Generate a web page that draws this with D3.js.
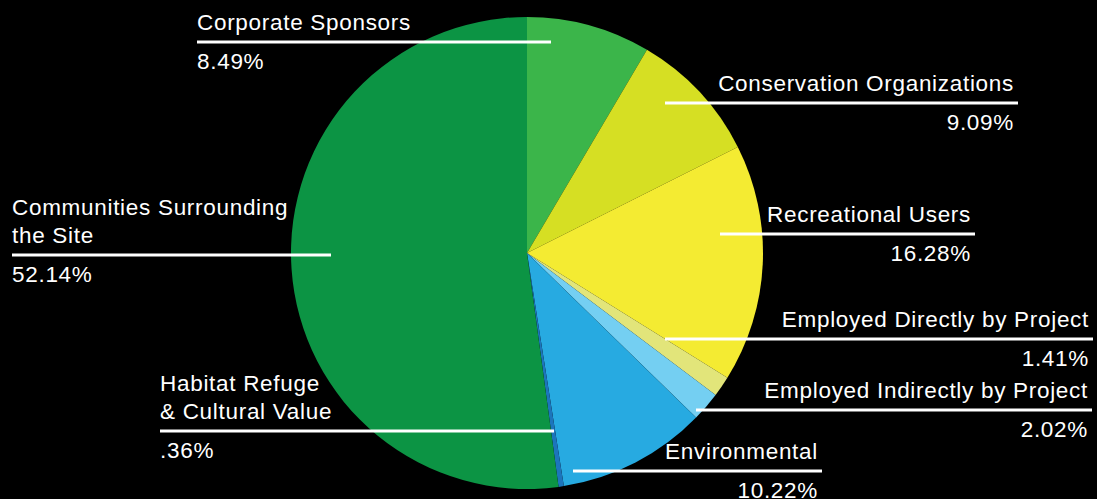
<!DOCTYPE html>
<html>
<head>
<meta charset="utf-8">
<script src="https://cdn.jsdelivr.net/npm/d3@7"></script>
<style>
  body { margin: 0; background: #000; }
  text { font-family: "Liberation Sans", Arial, sans-serif; fill: #fff; }
</style>
</head>
<body>
<svg id="chart"></svg>
<script>
// slices, clockwise from 12 o'clock
var categories = ["Corporate Sponsors", "Conservation Organizations", "Recreational Users",
  "Employed Directly by Project", "Employed Indirectly by Project", "Environmental",
  "Habitat Refuge & Cultural Value", "Communities Surrounding the Site"];
var values = [8.49, 9.09, 16.28, 1.41, 2.02, 10.22, 0.36, 52.14];
var valueLabels = ["8.49%", "9.09%", "16.28%", "1.41%", "2.02%", "10.22%", ".36%", "52.14%"];
var colors = ["#3bb54a", "#d6df23", "#f4eb32", "#e2e57a", "#74cff2", "#27aae1", "#1c75bc", "#0c9444"];

var width = 1097, height = 499;
var cx = 527, cy = 253, r = 236;

var svg = d3.select("#chart").attr("width", width).attr("height", height);

var pie = d3.pie().sort(null).value(function(d) { return d; });
var arc = d3.arc().innerRadius(0).outerRadius(r);

var g = svg.append("g").attr("transform", "translate(" + cx + "," + cy + ")");
g.selectAll("path")
  .data(pie(values))
  .enter().append("path")
    .attr("d", arc)
    .attr("fill", function(d, i) { return colors[i]; });

// label placement: leader line y, x range, alignment, text lines
var labelLayout = [
  {y: 42, x1: 197, x2: 551, anchor: "start", lines: ["Corporate Sponsors"]},
  {y: 103, x1: 665, x2: 1018, anchor: "end", lines: ["Conservation Organizations"]},
  {y: 234, x1: 720, x2: 975, anchor: "end", lines: ["Recreational Users"]},
  {y: 339, x1: 665, x2: 1093, anchor: "end", lines: ["Employed Directly by Project"]},
  {y: 410, x1: 696, x2: 1092, anchor: "end", lines: ["Employed Indirectly by Project"]},
  {y: 471, x1: 573, x2: 822, anchor: "end", lines: ["Environmental"]},
  {y: 431, x1: 160, x2: 554, anchor: "start", lines: ["Habitat Refuge", "& Cultural Value"]},
  {y: 255, x1: 12, x2: 331, anchor: "start", lines: ["Communities Surrounding", "the Site"]}
];

var labels = svg.append("g");
labelLayout.forEach(function(l, i) {
  var tx = l.anchor === "start" ? l.x1 : l.x2 - 4;
  labels.append("line")
    .attr("x1", l.x1).attr("x2", l.x2)
    .attr("y1", l.y).attr("y2", l.y)
    .attr("stroke", "#fff").attr("stroke-width", 3);
  var n = l.lines.length;
  l.lines.forEach(function(s, j) {
    labels.append("text")
      .attr("x", tx).attr("y", l.y - 12 - (n - 1 - j) * 28)
      .attr("text-anchor", l.anchor)
      .attr("font-size", 22.5)
      .attr("letter-spacing", 0.7)
      .text(s);
  });
  labels.append("text")
    .attr("x", tx).attr("y", l.y + 27)
    .attr("text-anchor", l.anchor)
    .attr("font-size", 22.5)
    .attr("letter-spacing", 0.7)
    .text(valueLabels[i]);
});
</script>
</body>
</html>
